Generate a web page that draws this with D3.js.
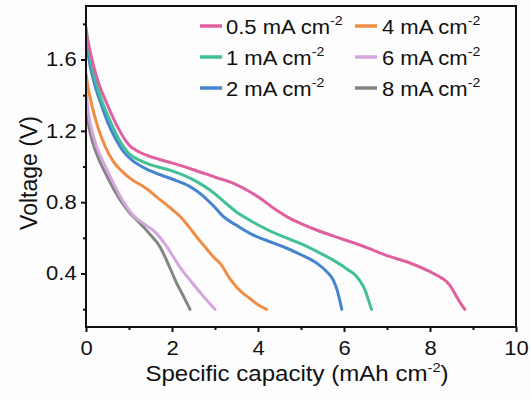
<!DOCTYPE html>
<html>
<head>
<meta charset="utf-8">
<script src="https://cdn.jsdelivr.net/npm/d3@7"></script>
<style>
  html, body { margin: 0; padding: 0; background: #fdfdfd; }
  svg { display: block; }
  text { font-family: "Liberation Sans", Arial, sans-serif; fill: #111; }
</style>
</head>
<body>
<svg id="chart" width="531" height="399"></svg>
<script>
// ---- data (capacity mAh cm-2, voltage V) ----
const seriesNames = ["0.5 mA cm", "1 mA cm", "2 mA cm", "4 mA cm", "6 mA cm", "8 mA cm"];
const seriesColors = ["#e0609f", "#42c096", "#4585cf", "#f08c44", "#d3a6dc", "#858585"];

const s05 = [[0,1.76],[0.1,1.64],[0.25,1.50],[0.5,1.345],[0.75,1.215],[1.0,1.12],[1.25,1.08],[1.5,1.055],[2.0,1.02],[2.5,0.982],[3.0,0.94],[3.43,0.906],[3.8,0.86],[4.05,0.822],[4.4,0.76],[4.74,0.709],[5.0,0.68],[5.36,0.644],[5.91,0.597],[6.37,0.56],[6.68,0.531],[7.0,0.50],[7.46,0.466],[8.0,0.41],[8.2,0.385],[8.39,0.354],[8.5,0.32],[8.62,0.27],[8.72,0.23],[8.81,0.199]];
const s1 = [[0,1.78],[0.1,1.61],[0.2,1.50],[0.35,1.38],[0.5,1.29],[0.75,1.16],[1.0,1.072],[1.25,1.035],[1.5,1.01],[2.0,0.975],[2.5,0.925],[2.9,0.865],[3.27,0.79],[3.5,0.745],[3.8,0.70],[4.2,0.648],[4.6,0.605],[4.98,0.569],[5.4,0.52],[5.75,0.475],[6.1,0.42],[6.3,0.382],[6.42,0.34],[6.49,0.307],[6.57,0.25],[6.64,0.199]];
const s2 = [[0,1.70],[0.1,1.56],[0.2,1.46],[0.35,1.35],[0.5,1.25],[0.7,1.15],[0.9,1.075],[1.1,1.03],[1.5,0.975],[2.0,0.93],[2.4,0.89],[2.7,0.84],[3.0,0.77],[3.19,0.72],[3.5,0.67],[3.81,0.625],[4.2,0.585],[4.59,0.55],[5.0,0.505],[5.37,0.457],[5.6,0.41],[5.75,0.363],[5.85,0.30],[5.9,0.25],[5.95,0.199]];
const s4 = [[0,1.52],[0.05,1.44],[0.15,1.33],[0.29,1.21],[0.45,1.11],[0.63,1.03],[0.85,0.97],[1.02,0.935],[1.41,0.875],[1.64,0.83],[1.95,0.77],[2.19,0.72],[2.4,0.66],[2.57,0.606],[2.8,0.54],[2.96,0.494],[3.12,0.457],[3.35,0.37],[3.6,0.30],[3.81,0.26],[4.0,0.225],[4.2,0.199]];
const s6 = [[0,1.42],[0.05,1.31],[0.15,1.19],[0.25,1.11],[0.45,1.0],[0.63,0.91],[0.85,0.81],[1.1,0.725],[1.4,0.67],[1.64,0.625],[1.85,0.56],[2.03,0.494],[2.2,0.43],[2.42,0.363],[2.7,0.28],[3.0,0.199]];
const s8 = [[0,1.35],[0.05,1.25],[0.15,1.14],[0.3,1.04],[0.5,0.94],[0.7,0.85],[0.83,0.80],[1.0,0.745],[1.18,0.70],[1.45,0.63],[1.72,0.55],[1.9,0.46],[2.11,0.345],[2.25,0.28],[2.42,0.199]];
const seriesData = [s05, s1, s2, s4, s6, s8];

const xMajorTicks = [0, 2, 4, 6, 8, 10];
const xMinorTicks = [1, 3, 5, 7, 9];
const yMajorTicks = [0.4, 0.8, 1.2, 1.6];
const yMinorTicks = [0.2, 0.6, 1.0, 1.4, 1.8];

const xTitle = "Specific capacity (mAh cm";
const yTitle = "Voltage (V)";

// ---- layout ----
const L = 86, R = 516, T = 6, B = 327;
const SX = 1.13; // horizontal text stretch seen in the reference
const svg = d3.select("#chart");

const x = d3.scaleLinear().domain([0, 10]).range([L, R]);
const y = d3.scaleLinear().domain([0.1, 1.9]).range([B, T]);

svg.append("clipPath").attr("id", "clip").append("rect")
  .attr("x", L).attr("y", T).attr("width", R - L).attr("height", B - T);

const line = d3.line().x(d => x(d[0])).y(d => y(d[1])).curve(d3.curveMonotoneX);
const plot = svg.append("g").attr("clip-path", "url(#clip)");
seriesData.map((d, i) => ({d, i})).reverse().forEach(({d, i}) => {
  plot.append("path").datum(d)
    .attr("fill", "none")
    .attr("stroke", seriesColors[i])
    .attr("stroke-width", 3)
    .attr("stroke-linejoin", "round")
    .attr("stroke-linecap", "round")
    .attr("d", line);
});

// axes
const fs = 19.5;
const gx = svg.append("g").attr("transform", `translate(0,${B})`)
  .call(d3.axisBottom(x).tickValues(xMajorTicks).tickSize(5).tickPadding(9.5).tickFormat(d3.format("d")));
gx.select(".domain").remove();
gx.selectAll("line").attr("stroke", "#111").attr("stroke-width", 2);
gx.selectAll("text").attr("font-size", fs).attr("font-family", "Liberation Sans, Arial, sans-serif")
  .attr("fill", "#111").attr("transform", `scale(${SX},1)`);

const gxm = svg.append("g").attr("transform", `translate(0,${B})`)
  .call(d3.axisBottom(x).tickValues(xMinorTicks).tickSize(3).tickFormat(""));
gxm.select(".domain").remove();
gxm.selectAll("line").attr("stroke", "#111").attr("stroke-width", 2);

const gy = svg.append("g").attr("transform", `translate(${L},0)`)
  .call(d3.axisLeft(y).tickValues(yMajorTicks).tickSize(5).tickPadding(4).tickFormat(d3.format(".1f")));
gy.select(".domain").remove();
gy.selectAll("line").attr("stroke", "#111").attr("stroke-width", 2);
gy.selectAll("text").attr("font-size", fs).attr("font-family", "Liberation Sans, Arial, sans-serif")
  .attr("fill", "#111").attr("x", -9.3 / SX).attr("transform", `scale(${SX},1)`);

const gym = svg.append("g").attr("transform", `translate(${L},0)`)
  .call(d3.axisLeft(y).tickValues(yMinorTicks).tickSize(3).tickFormat(""));
gym.select(".domain").remove();
gym.selectAll("line").attr("stroke", "#111").attr("stroke-width", 2);

// frame
svg.append("rect").attr("x", L).attr("y", T).attr("width", R - L).attr("height", B - T)
  .attr("fill", "none").attr("stroke", "#111").attr("stroke-width", 2);

// axis titles
const xt = svg.append("text")
  .attr("transform", `translate(297,381) scale(${SX},1)`)
  .attr("text-anchor", "middle").attr("font-size", 21.3);
xt.append("tspan").text(xTitle);
xt.append("tspan").attr("font-size", 13).attr("dy", -9).text("-2");
xt.append("tspan").attr("dy", 9).text(")");

svg.append("text")
  .attr("transform", "translate(37,173) rotate(-90)")
  .attr("text-anchor", "middle").attr("font-size", 23)
  .text(yTitle);

// legend
const legRows = [26, 57, 88];
const legCols = [{lx: 200, tx: 226}, {lx: 355, tx: 382}];
seriesNames.forEach((name, i) => {
  const col = legCols[Math.floor(i / 3)];
  const ry = legRows[i % 3];
  svg.append("line")
    .attr("x1", col.lx).attr("x2", col.lx + 22)
    .attr("y1", ry).attr("y2", ry)
    .attr("stroke", seriesColors[i]).attr("stroke-width", 3.5);
  const t = svg.append("text")
    .attr("transform", `translate(${col.tx},${ry + 7.5}) scale(${SX},1)`)
    .attr("font-size", fs);
  t.append("tspan").text(name);
  t.append("tspan").attr("font-size", 12.5).attr("dy", -8.5).text("-2");
});
</script>
</body>
</html>
